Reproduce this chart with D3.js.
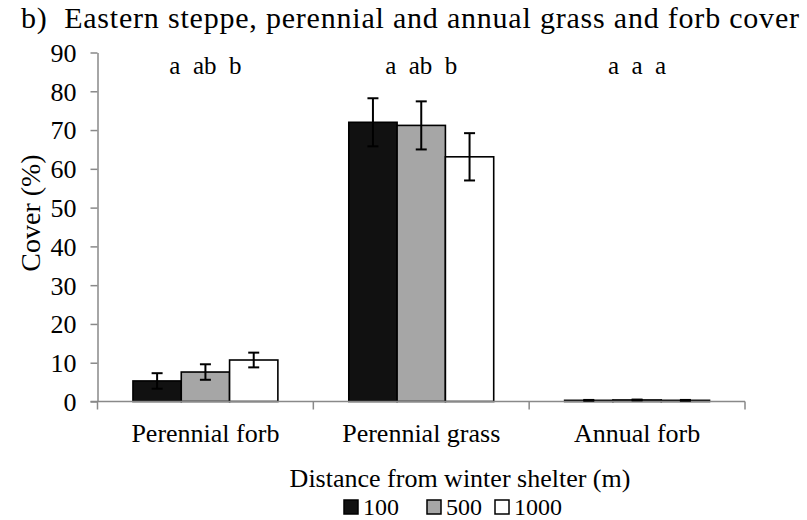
<!DOCTYPE html>
<html>
<head>
<meta charset="utf-8">
<script src="https://cdn.jsdelivr.net/npm/d3@7"></script>
<style>
  html, body { margin: 0; padding: 0; background: #fff; }
  svg { display: block; }
</style>
</head>
<body>
<svg id="chart" width="807" height="520"></svg>
<script>
// Cover data by vegetation group and distance from winter shelter
const categories = ["Perennial forb", "Perennial grass", "Annual forb"];
const distances = ["100", "500", "1000"];
const cover100 = [5.3, 72.0, 0.3];
const cover500 = [7.6, 71.2, 0.4];
const cover1000 = [10.7, 63.1, 0.3];
const err100 = [2.0, 6.2, 0.1];
const err500 = [2.0, 6.2, 0.1];
const err1000 = [1.9, 6.1, 0.1];
// Significance groups for each category (100, 500, 1000 m)
const letters = ["a  ab  b", "a  ab  b", "a  a  a"];
const yTicks = [0, 10, 20, 30, 40, 50, 60, 70, 80, 90];
const fills = ["#111111", "#a6a6a6", "#ffffff"];

const seriesValues = [cover100, cover500, cover1000];
const seriesErrors = [err100, err500, err1000];

const FONT = '"Liberation Serif", "Times New Roman", serif';
const svg = d3.select("#chart");
const x0 = 97.5, x1 = 745, yTop = 52.5, yBase = 401.5;
const axisGrey = "#898989";

const x = d3.scaleBand().domain(categories).range([x0, x1]).paddingInner(0).paddingOuter(0);
const xs = d3.scaleBand().domain(distances).range([0, x.bandwidth()]).paddingInner(0).paddingOuter(0.734);
const y = d3.scaleLinear().domain([0, 90]).range([yBase, yTop]);

function label(sel) {
  return sel.style("font-family", FONT).attr("fill", "#000");
}

// Title
label(svg.append("text"))
  .attr("x", 21).attr("y", 28)
  .attr("font-size", 30)
  .style("white-space", "pre")
  .attr("textLength", 778).attr("lengthAdjust", "spacing")
  .text("b)  Eastern steppe, perennial and annual grass and forb cover");

// Y axis
const yAxis = d3.axisLeft(y).tickValues(yTicks).tickSize(7).tickSizeOuter(0).tickPadding(14);
const gy = svg.append("g").attr("transform", `translate(${x0},0)`).call(yAxis);
gy.select(".domain").attr("stroke", axisGrey).attr("stroke-width", 1.5);
gy.selectAll(".tick line").attr("stroke", axisGrey).attr("stroke-width", 1.5);
label(gy.selectAll(".tick text")).attr("font-size", 26).attr("dy", "0.34em");

// Y label
label(svg.append("text"))
  .attr("transform", `translate(40,${(yTop + yBase) / 2 - 14}) rotate(-90)`)
  .attr("text-anchor", "middle")
  .attr("font-size", 28)
  .text("Cover (%)");

// Bars
categories.forEach((c, ci) => {
  distances.forEach((d, si) => {
    const v = seriesValues[si][ci];
    svg.append("rect")
      .attr("x", x(c) + xs(d)).attr("y", y(v))
      .attr("width", xs.bandwidth()).attr("height", yBase - y(v))
      .attr("fill", fills[si]).attr("stroke", "#000").attr("stroke-width", 1.6);
  });
});

// X axis with tick marks between categories
const gx = svg.append("g").attr("transform", `translate(0,${yBase})`);
gx.append("line").attr("x1", x0 - 7).attr("x2", x1).attr("y1", 0).attr("y2", 0)
  .attr("stroke", axisGrey).attr("stroke-width", 1.5);
const boundaries = categories.map(c => x(c)).concat([x1]);
gx.selectAll("line.tk").data(boundaries).enter().append("line")
  .attr("class", "tk")
  .attr("x1", d => d).attr("x2", d => d).attr("y1", 0).attr("y2", 8)
  .attr("stroke", axisGrey).attr("stroke-width", 1.5);
label(gx.selectAll("text").data(categories).enter().append("text"))
  .attr("x", d => x(d) + x.bandwidth() / 2).attr("y", 40)
  .attr("text-anchor", "middle").attr("font-size", 26)
  .text(d => d);

// Error bars
categories.forEach((c, ci) => {
  distances.forEach((d, si) => {
    const v = seriesValues[si][ci];
    const e = seriesErrors[si][ci];
    const cx = x(c) + xs(d) + xs.bandwidth() / 2;
    const g = svg.append("g").attr("stroke", "#000").attr("stroke-width", 2);
    g.append("line").attr("x1", cx).attr("x2", cx).attr("y1", y(v + e)).attr("y2", y(v - e));
    g.append("line").attr("x1", cx - 5.5).attr("x2", cx + 5.5).attr("y1", y(v + e)).attr("y2", y(v + e));
    g.append("line").attr("x1", cx - 5.5).attr("x2", cx + 5.5).attr("y1", y(v - e)).attr("y2", y(v - e));
  });
});

// Significance letters centred over each category
categories.forEach((c, ci) => {
  label(svg.append("text"))
    .attr("x", x(c) + x.bandwidth() / 2).attr("y", 74)
    .attr("text-anchor", "middle").attr("font-size", 25)
    .style("white-space", "pre")
    .text(letters[ci]);
});

// Legend
label(svg.append("text"))
  .attr("x", 460).attr("y", 487)
  .attr("text-anchor", "middle").attr("font-size", 26)
  .text("Distance from winter shelter (m)");

const legendX = [344, 427, 495];
distances.forEach((d, i) => {
  svg.append("rect")
    .attr("x", legendX[i]).attr("y", 500).attr("width", 14).attr("height", 14)
    .attr("fill", fills[i]).attr("stroke", "#000").attr("stroke-width", 1.5);
  label(svg.append("text"))
    .attr("x", legendX[i] + 19).attr("y", 515)
    .attr("font-size", 24)
    .text(d);
});
</script>
</body>
</html>
